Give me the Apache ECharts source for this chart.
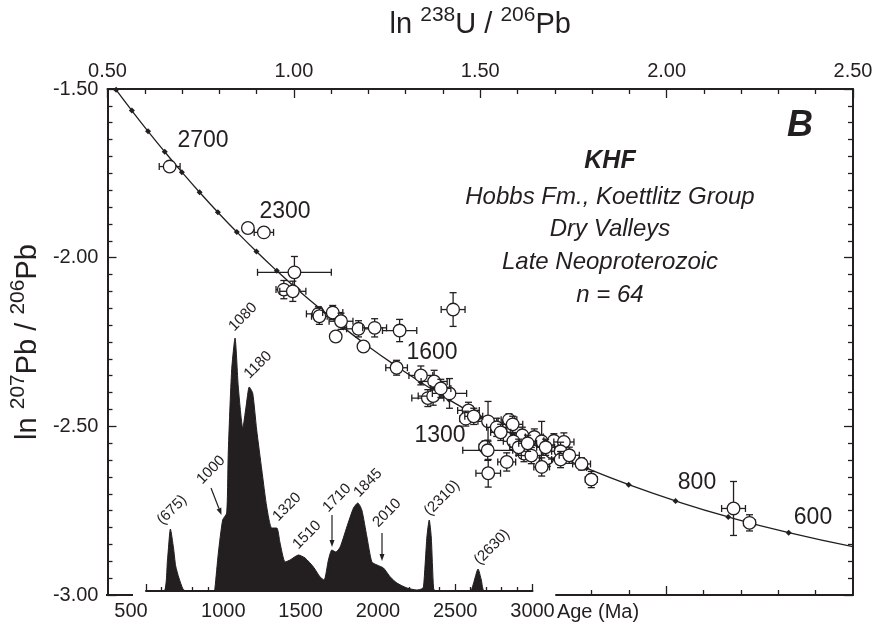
<!DOCTYPE html>
<html>
<head>
<meta charset="utf-8">
<script src="https://cdn.jsdelivr.net/npm/echarts@6/dist/echarts.min.js"></script>
<style>
  html, body { margin: 0; padding: 0; background: #fff; }
  #chart { width: 876px; height: 624px; }
</style>
</head>
<body>
<div id="chart"></div>
<script>
// concordia (every 100 Ma)
const concordiaAge = [500, 600, 700, 800, 900, 1000, 1100, 1200, 1300, 1400, 1500, 1600, 1700, 1800,
  1900, 2000, 2100, 2200, 2300, 2400, 2500, 2600, 2700, 2800, 2900, 3000, 3100];
const concordiaX = [2.5177, 2.3275, 2.1654, 2.0240, 1.8983, 1.7850, 1.6817, 1.5867, 1.4986, 1.4165,
  1.3395, 1.2669, 1.1981, 1.1329, 1.0707, 1.0112, 0.9543, 0.8996, 0.8469, 0.7961, 0.7471, 0.6996,
  0.6536, 0.6089, 0.5655, 0.5232, 0.4821];
const concordiaY = [-2.8608, -2.8151, -2.7685, -2.7211, -2.6730, -2.6242, -2.5746, -2.5242, -2.4731,
  -2.4213, -2.3688, -2.3155, -2.2616, -2.2070, -2.1516, -2.0957, -2.0391, -1.9818, -1.9239, -1.8654,
  -1.8063, -1.7466, -1.6863, -1.6255, -1.5641, -1.5021, -1.4397];

// zircon analyses: ln 238U/206Pb, ln 207Pb/206Pb and their errors
const ptX = [0.6668, 0.8767, 0.9195, 1.0015, 0.9731, 0.9972, 1.0657, 1.0684, 1.1043, 1.1265, 1.1123,
  1.1734, 1.2167, 1.2837, 1.1867, 1.4272, 1.2756, 1.3407, 1.3763, 1.3594, 1.3736, 1.4175, 1.4684,
  1.4612, 1.5209, 1.5442, 1.5771, 1.5870, 1.6130, 1.5889, 1.6451, 1.6647, 1.6976, 1.7244, 1.5129,
  1.5201, 1.5710, 1.6173, 1.6371, 1.6799, 1.6914, 1.7155, 1.7155, 1.7388, 1.7718, 1.6648, 1.5214,
  1.7980, 2.1795, 2.2224, 1.5549, 1.6031, 1.6272, 1.6754, 1.4826, 1.3942];
const ptY = [-1.7299, -1.9121, -1.9251, -2.0435, -2.0947, -2.0997, -2.1666, -2.1737, -2.1627, -2.1885,
  -2.2337, -2.2109, -2.2080, -2.2160, -2.2633, -2.1538, -2.3263, -2.3491, -2.3669, -2.4163, -2.4104,
  -2.4024, -2.4527, -2.4772, -2.4852, -2.5030, -2.4808, -2.4941, -2.5266, -2.5444, -2.5317, -2.5444,
  -2.5429, -2.5464, -2.5612, -2.5710, -2.6056, -2.5808, -2.5867, -2.5947, -2.5760, -2.5740, -2.5985,
  -2.5858, -2.6115, -2.6204, -2.6391, -2.6577, -2.7435, -2.7861, -2.5178, -2.5621, -2.5503, -2.5621,
  -2.4704, -2.3876];
const errX = [0.028, 0.008, 0.026, 0.099, 0.021, 0.035, 0.032, 0.021, 0.027, 0.032, 0.011, 0.032, 0.032,
  0.046, 0.013, 0.032, 0.029, 0.032, 0.035, 0.043, 0.040, 0.046, 0.029, 0.016, 0.027, 0.027, 0.021,
  0.027, 0.027, 0.027, 0.024, 0.032, 0.027, 0.027, 0.016, 0.067, 0.024, 0.021, 0.027, 0.021, 0.021,
  0.024, 0.024, 0.027, 0.024, 0.021, 0.033, 0.016, 0.032, 0.016, 0.027, 0.024, 0.024, 0.024, 0.024, 0.027];
const errY = [0.009, 0.009, 0.009, 0.047, 0.027, 0.030, 0.021, 0.024, 0.021, 0.024, 0.015, 0.024, 0.027,
  0.033, 0.015, 0.050, 0.022, 0.028, 0.033, 0.025, 0.027, 0.044, 0.024, 0.022, 0.059, 0.027, 0.018,
  0.024, 0.024, 0.024, 0.024, 0.059, 0.021, 0.027, 0.018, 0.030, 0.027, 0.024, 0.024, 0.024, 0.021,
  0.027, 0.024, 0.024, 0.018, 0.027, 0.041, 0.024, 0.080, 0.024, 0.024, 0.024, 0.024, 0.024, 0.024, 0.027];

// relative probability curve of ages
const histAge = [500, 616, 639, 658, 678, 692, 713, 739, 758, 940, 946, 968, 996, 1022, 1032, 1054, 1076,
  1097, 1126, 1147, 1168, 1190, 1216, 1249, 1281, 1313, 1346, 1367, 1400, 1432, 1486, 1529, 1583, 1626,
  1652, 1680, 1702, 1728, 1756, 1799, 1842, 1870, 1896, 1929, 1961, 1994, 2036, 2080, 2123, 2188, 2253,
  2281, 2295, 2317, 2332, 2345, 2360, 2371, 2598, 2617, 2648, 2669, 2689, 3000];
const histProb = [0, 0, 31, 62, 43, 25, 13, 2, 0, 0, 3, 38, 71, 78, 138, 221, 253, 204, 163, 184, 204, 198,
  161, 121, 84, 63, 63, 48, 29, 31, 36, 33, 24, 14, 11, 31, 41, 39, 44, 64, 83, 88, 81, 54, 29, 26, 23,
  14, 8, 3, 1, 2, 4, 54, 71, 54, 3, 0, 0, 7, 22, 11, 0, 0];

const ageTicks = [500, 1000, 1500, 2000, 2500, 3000];
const peakLabels = ['(675)', '1000', '1080', '1180', '1320', '1510', '1710', '1845', '2010', '(2310)', '(2630)'];
const ageLabels = ['2700', '2300', '1600', '1300', '800', '600'];
const infoLines = ['KHF', 'Hobbs Fm., Koettlitz Group', 'Dry Valleys', 'Late Neoproterozoic', 'n = 64'];

const INK = '#231f20';
const FONT = "'Liberation Sans', Arial, Helvetica, sans-serif";

const chart = echarts.init(document.getElementById('chart'));

function renderPoint(params, api) {
  const x = api.value(0), y = api.value(1), ex = api.value(2), ey = api.value(3);
  const c = api.coord([x, y]);
  const l = api.coord([x - ex, y])[0], r = api.coord([x + ex, y])[0];
  const t = api.coord([x, y + ey])[1], b = api.coord([x, y - ey])[1];
  const cap = 3.5;
  const st = { stroke: INK, lineWidth: 1.3 };
  const kids = [];
  const seg = (x1, y1, x2, y2) => kids.push({ type: 'line', shape: { x1, y1, x2, y2 }, style: st });
  seg(l, c[1], r, c[1]);
  seg(l, c[1] - cap, l, c[1] + cap);
  seg(r, c[1] - cap, r, c[1] + cap);
  seg(c[0], t, c[0], b);
  seg(c[0] - cap, t, c[0] + cap, t);
  seg(c[0] - cap, b, c[0] + cap, b);
  kids.push({ type: 'circle', shape: { cx: c[0], cy: c[1], r: 6.3 }, style: { fill: '#fff', stroke: INK, lineWidth: 1.3 } });
  return { type: 'group', children: kids };
}

function txt(text, x, y, size, extra) {
  return {
    type: 'text', x: x, y: y, z: 50,
    style: Object.assign({ text: text, fontSize: size, fontFamily: FONT, fill: INK, align: 'center', verticalAlign: 'middle' }, extra || {})
  };
}
function rotTxt(text, x, y) {
  const t = txt(text, x, y, 15);
  t.rotation = Math.PI / 4;
  return t;
}
function arrow(x1, y1, x2, y2) {
  const dx = x2 - x1, dy = y2 - y1, len = Math.sqrt(dx * dx + dy * dy);
  const ux = dx / len, uy = dy / len, h = 7, w = 2.5;
  const bx = x2 - ux * h, by = y2 - uy * h;
  return [
    { type: 'line', z: 50, shape: { x1: x1, y1: y1, x2: bx, y2: by }, style: { stroke: INK, lineWidth: 1.2 } },
    { type: 'polygon', z: 50, shape: { points: [[x2, y2], [bx - uy * w, by + ux * w], [bx + uy * w, by - ux * w]] }, style: { fill: INK } }
  ];
}

const labelStyle = { color: INK, fontSize: 20, fontFamily: FONT };
const tickLine = { color: INK, width: 1.3 };
const titleRich = {
  a: { fontSize: 29, fontFamily: FONT, color: INK, lineHeight: 34, verticalAlign: 'bottom' },
  s: { fontSize: 21, fontFamily: FONT, color: INK, lineHeight: 34, verticalAlign: 'top' }
};

const graphics = [
  { type: 'line', shape: { x1: 106, y1: 595, x2: 133, y2: 595 }, style: { stroke: INK, lineWidth: 2 } },
  txt('Age (Ma)', 598, 612, 20),
  txt('B', 800, 126, 36, { fontWeight: 'bold', fontStyle: 'italic' }),
  txt(infoLines[0], 610, 161, 25, { fontWeight: 'bold', fontStyle: 'italic' }),
  txt(infoLines[1], 610, 197, 24, { fontStyle: 'italic' }),
  txt(infoLines[2], 610, 229, 24, { fontStyle: 'italic' }),
  txt(infoLines[3], 610, 262, 24, { fontStyle: 'italic' }),
  txt(infoLines[4], 610, 295, 24, { fontStyle: 'italic' }),
  txt(ageLabels[0], 203, 141, 23),
  txt(ageLabels[1], 285, 212, 23),
  txt(ageLabels[2], 432, 353, 23),
  txt(ageLabels[3], 440, 436, 23),
  txt(ageLabels[4], 697, 483, 23),
  txt(ageLabels[5], 813, 518, 23),
  rotTxt(peakLabels[0], 172, 510),
  rotTxt(peakLabels[1], 211, 470),
  rotTxt(peakLabels[2], 243, 317),
  rotTxt(peakLabels[3], 258, 365),
  rotTxt(peakLabels[4], 287, 507),
  rotTxt(peakLabels[5], 307, 535),
  rotTxt(peakLabels[6], 337, 498),
  rotTxt(peakLabels[7], 368, 483),
  rotTxt(peakLabels[8], 387, 513),
  rotTxt(peakLabels[9], 442, 498),
  rotTxt(peakLabels[10], 492, 547)
].concat(arrow(211, 488, 221.5, 515), arrow(332, 515, 332, 547), arrow(382, 533, 382, 561));

const option = {
  backgroundColor: '#fff',
  animation: false,
  grid: [
    { left: 106, right: 23, top: 88, bottom: 29 },
    { left: 146, right: 343.5, top: 88, bottom: 33 },
    { left: 556, right: 23, bottom: 29, height: 1 }
  ],
  xAxis: [
    {
      gridIndex: 0, type: 'value', position: 'top', min: 0.5, max: 2.5, interval: 0.5,
      axisLine: { show: true, onZero: false, lineStyle: { color: INK, width: 2 } },
      axisTick: { show: true, inside: true, length: 9, lineStyle: tickLine },
      minorTick: { show: true, splitNumber: 5, length: 5, lineStyle: tickLine },
      splitLine: { show: false },
      axisLabel: Object.assign({ margin: 8, formatter: v => v.toFixed(2) }, labelStyle),
      name: '{a|ln }{s|238}{a|U / }{s|206}{a|Pb}',
      nameLocation: 'middle', nameGap: 50,
      nameTextStyle: { rich: titleRich }
    },
    {
      gridIndex: 0, type: 'value', position: 'bottom', min: 0.5, max: 2.5,
      axisLine: { show: false, onZero: false },
      axisTick: { show: true, inside: true, length: 9, customValues: [2.0], lineStyle: tickLine },
      axisLabel: { show: false }, splitLine: { show: false }
    },
    {
      gridIndex: 1, type: 'value', position: 'bottom', min: 500, max: 3000, interval: 500,
      axisLine: { show: true, onZero: false, lineStyle: { color: INK, width: 2 } },
      axisTick: { show: true, inside: true, length: 7, lineStyle: tickLine },
      minorTick: { show: true, splitNumber: 5, length: 4, lineStyle: tickLine },
      splitLine: { show: false },
      axisLabel: Object.assign({
        margin: 10,
        formatter: v => (v === ageTicks[0] ? '{l|' + v + '}' : String(v)),
        rich: { l: { fontSize: 20, fontFamily: FONT, color: INK, padding: [0, 30, 0, 0] } }
      }, labelStyle)
    },
    {
      gridIndex: 2, type: 'value', position: 'bottom', min: 1.7048, max: 2.5,
      axisLine: { show: true, onZero: false, lineStyle: { color: INK, width: 2 } },
      axisTick: { show: true, inside: true, length: 5, customValues: [1.8, 1.9, 2.1, 2.2, 2.3, 2.4], lineStyle: tickLine },
      axisLabel: { show: false }, splitLine: { show: false }
    }
  ],
  yAxis: [
    {
      gridIndex: 0, type: 'value', position: 'left', min: -3, max: -1.5, interval: 0.5,
      axisLine: { show: true, onZero: false, lineStyle: { color: INK, width: 2 } },
      axisTick: { show: true, inside: true, length: 9, lineStyle: tickLine },
      minorTick: { show: true, splitNumber: 10, length: 5, lineStyle: tickLine },
      splitLine: { show: false },
      axisLabel: Object.assign({ margin: 9, formatter: v => v.toFixed(2) }, labelStyle),
      name: '{a|ln }{s|207}{a|Pb / }{s|206}{a|Pb}',
      nameLocation: 'middle', nameGap: 59, nameRotate: 90,
      nameTextStyle: { rich: titleRich }
    },
    {
      gridIndex: 0, type: 'value', position: 'right', min: -3, max: -1.5, interval: 0.5,
      axisLine: { show: true, onZero: false, lineStyle: { color: INK, width: 2 } },
      axisTick: { show: true, inside: true, length: 9, lineStyle: tickLine },
      minorTick: { show: true, splitNumber: 10, length: 5, lineStyle: tickLine },
      splitLine: { show: false }, axisLabel: { show: false }
    },
    { gridIndex: 1, type: 'value', min: 0, max: 503, show: false },
    { gridIndex: 2, type: 'value', min: 0, max: 1, show: false }
  ],
  series: [
    {
      name: 'probability', type: 'line', xAxisIndex: 2, yAxisIndex: 2, z: 1,
      data: histAge.map((a, i) => [a, histProb[i]]),
      smooth: 0.2, symbol: 'none',
      lineStyle: { color: INK, width: 1 },
      areaStyle: { color: INK, opacity: 1 }
    },
    {
      name: 'concordia', type: 'line', xAxisIndex: 0, yAxisIndex: 0, z: 3,
      data: concordiaX.map((x, i) => [x, concordiaY[i], concordiaAge[i]]),
      smooth: true, symbol: 'diamond', symbolSize: 6, showSymbol: true,
      itemStyle: { color: INK },
      lineStyle: { color: INK, width: 1.3 }
    },
    {
      name: 'analyses', type: 'custom', xAxisIndex: 0, yAxisIndex: 0, z: 5,
      data: ptX.map((x, i) => [x, ptY[i], errX[i], errY[i]]),
      encode: { x: 0, y: 1 },
      renderItem: renderPoint
    }
  ],
  graphic: graphics
};

chart.setOption(option);
</script>
</body>
</html>
